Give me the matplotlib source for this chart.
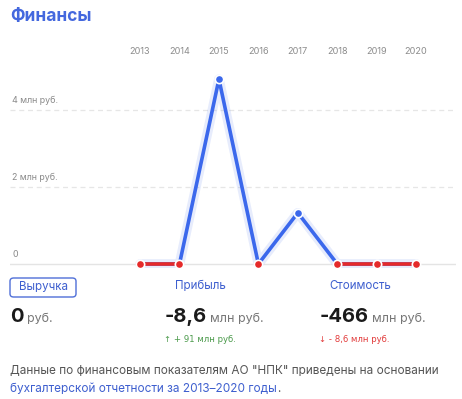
import matplotlib.pyplot as plt
from matplotlib.patches import FancyBboxPatch

plt.rcParams['font.family'] = ['Inter', 'DejaVu Sans']

years = [2013, 2014, 2015, 2016, 2017, 2018, 2019, 2020]
revenue = [0, 0, 4.8, 0, 1.33, 0, 0, 0]  # млн руб.
y_ticks = [0, 2, 4]
y_tick_labels = ['0', '2 млн руб.', '4 млн руб.']

BLUE = '#3b68ec'
RED = '#e52a2a'
GRAY = '#8a8a8a'

W, H = 462, 399
fig = plt.figure(figsize=(W / 100, H / 100), dpi=100)

# axes in pixel coords: x 10..456, y 40..268
ax = fig.add_axes([10 / W, 1 - 268 / H, 446 / W, 228 / H])
ax.set_xlim(2009.703, 2021.01)
ax.set_ylim(-0.104, 5.818)
ax.axis('off')

for t, lab in zip(y_ticks, y_tick_labels):
    if t == 0:
        ax.axhline(t, color='#e4e4e4', lw=1, zorder=0)
    else:
        ax.axhline(t, color='#e6e6e6', lw=0.9, ls=(0, (4, 3)), zorder=0)
    ax.annotate(lab, (2009.703, t), xytext=(1.5, 3.5), textcoords='offset points',
                fontsize=6.4, color=GRAY, va='bottom', ha='left')

for yr in years:
    ax.annotate(str(yr), (yr, 5.818), xytext=(0, -8), textcoords='offset points',
                fontsize=6.6, color='#8d8d8d', ha='center', va='center')

# glow + main line
ax.plot(years, revenue, color=BLUE, lw=7, alpha=0.12, solid_capstyle='round', zorder=2)
ax.plot(years, revenue, color=BLUE, lw=2.6, solid_capstyle='round', zorder=3)

for i in range(len(years) - 1):
    if revenue[i] == 0 and revenue[i + 1] == 0:
        ax.plot(years[i:i + 2], revenue[i:i + 2], color=RED, lw=2.6, zorder=4)

for x, v in zip(years, revenue):
    c = RED if v == 0 else BLUE
    ax.plot(x, v, 'o', ms=6, color=c, mec='white', mew=1.2, zorder=5, clip_on=False)

# title
fig.text(10 / W, 1 - 17 / H, 'Финансы', fontsize=12.5, fontweight='bold',
         color='#4468de', va='center', ha='left')

# tabs
box = FancyBboxPatch((10 / W, 1 - 297 / H), 66 / W, 19 / H,
                     boxstyle='round,pad=0,rounding_size=0.008',
                     transform=fig.transFigure, fc='white', ec='#4f6fd8', lw=1)
fig.patches.append(box)
fig.text(43 / W, 1 - 287.5 / H, 'Выручка', fontsize=8.3, color='#3e5fcf', ha='center', va='center')
fig.text(200 / W, 1 - 286 / H, 'Прибыль', fontsize=8.3, color='#3e5fcf', ha='center', va='center')
fig.text(360 / W, 1 - 286 / H, 'Стоимость', fontsize=8.3, color='#3e5fcf', ha='center', va='center')

# values
def value(x, big, small):
    t = fig.text(x / W, 1 - 317 / H, big, fontsize=14.5, fontweight='bold', color='#1a1a1a',
                 ha='left', va='center')
    fig.canvas.draw()
    bb = t.get_window_extent()
    fig.text((bb.x1 + 3) / W, 1 - 318.5 / H, small, fontsize=9, color='#777777',
             ha='left', va='center')

value(10, '0', 'руб.')
value(165, '-8,6', 'млн руб.')
value(320, '-466', 'млн руб.')

fig.text(164 / W, 1 - 340 / H, '↑ + 91 млн руб.', fontsize=6.1, color='#4b9a4b',
         ha='left', va='center', family=['DejaVu Sans'])
fig.text(319 / W, 1 - 340 / H, '↓ - 8,6 млн руб.', fontsize=6.1, color='#e23b3b',
         ha='left', va='center', family=['DejaVu Sans'])

# footer
fig.text(10 / W, 1 - 371 / H, 'Данные по финансовым показателям АО "НПК" приведены на основании',
         fontsize=8.5, color='#555555', ha='left', va='center')
link = fig.text(10 / W, 1 - 389 / H, 'бухгалтерской отчетности за 2013–2020 годы',
                fontsize=8.5, color='#3e5fcf', ha='left', va='center')
fig.canvas.draw()
bb = link.get_window_extent()
fig.text(bb.x1 / W, 1 - 389 / H, '.', fontsize=8.5, color='#555555', ha='left', va='center')

fig.savefig('out.png', dpi=100)
